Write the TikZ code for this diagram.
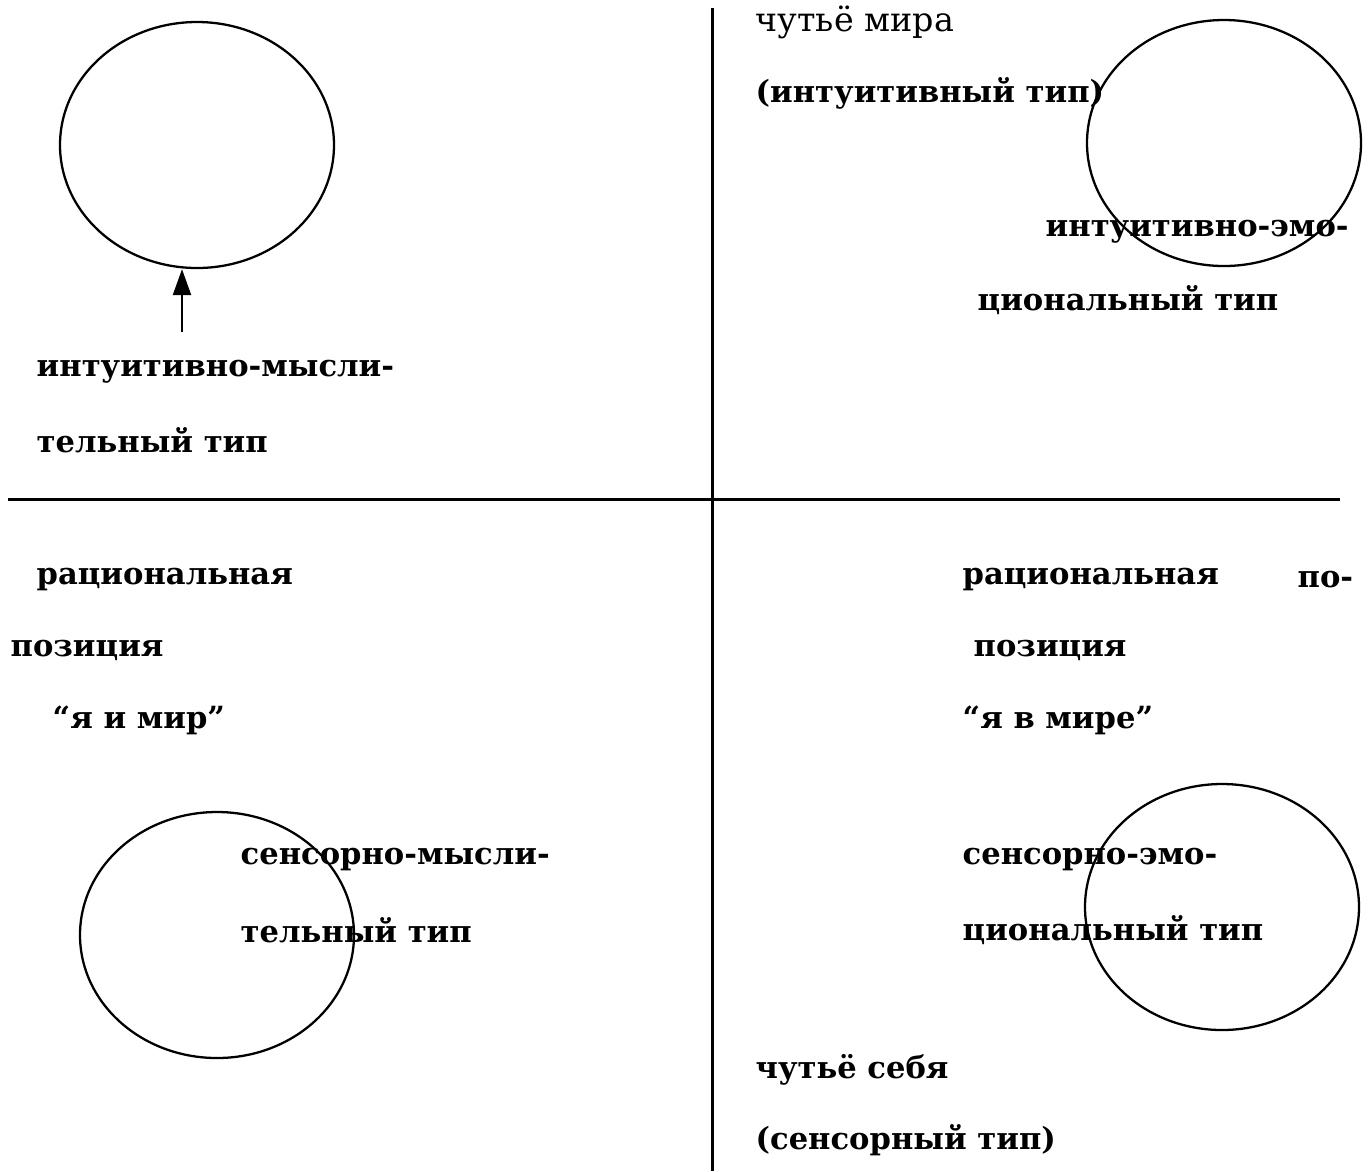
\documentclass[tikz,border=0pt]{standalone}
\usepackage{fontspec}
\setmainfont{DejaVu Serif}
\usetikzlibrary{arrows.meta,positioning,shapes.geometric}

\begin{document}
\begin{tikzpicture}[lbl/.style={anchor=west,inner sep=0pt,font=\bfseries\fontsize{8.7}{11}\selectfont},thin lbl/.style={lbl,font=\fontsize{9.5}{11}\selectfont},ring/.style={ellipse,draw,line width=0.65pt,inner sep=0pt,minimum width=2.74cm,minimum height=2.46cm},arrow/.style={-{Triangle[length=2.6mm,width=1.8mm]},line width=0.7pt}]
\useasboundingbox (0,0) rectangle (13.68,-11.71);
% axes
\coordinate (vtop) at (7.12,-0.08);
\coordinate (vbot) at (7.12,-11.71);
\coordinate (hleft) at (0.08,-4.99);
\coordinate (hright) at (13.40,-4.99);
\draw[line width=0.85pt] (vtop) -- (vbot);
\draw[line width=0.85pt] (hleft) -- (hright);
% circles
\node[ring](tl) at (1.97,-1.45){};
\node[ring](tr) at (12.24,-1.43){};
\node[ring](bl) at (2.17,-9.35){};
\node[ring](br) at (12.22,-9.07){};
\coordinate (tail) at (1.82,-3.32);
\draw[arrow] (tail) -- (tl.south -| tail);
% upper right
\node[thin lbl](mir) at (7.55,-0.22){чутьё мира};
\node[lbl](intu) at (7.55,-0.93){(интуитивный тип)};
\node[lbl](ie1) at (10.45,-2.32){интуитивно-эмо-};
\node[lbl](ie2) at (9.77,-3.00){циональный тип};
% upper left
\node[lbl](im1) at (0.36,-3.72){интуитивно-мысли-};
\node[lbl](im2) at (0.36,-4.40){тельный тип};
% lower left
\node[lbl](rl1) at (0.36,-5.80){рациональная};
\node[lbl](rl2) at (0.10,-6.50){позиция};
\node[lbl](rl3) at (0.52,-7.20){“я и мир”};
\node[lbl](sm1) at (2.40,-8.60){сенсорно-мысли-};
\node[lbl](sm2) at (2.40,-9.30){тельный тип};
% lower right
\node[lbl](rr1) at (9.62,-5.80){рациональная};
\node[lbl](rr1b) at (12.97,-5.80){по-};
\node[lbl](rr2) at (9.73,-6.50){позиция};
\node[lbl](rr3) at (9.62,-7.20){“я в мире”};
\node[lbl](se1) at (9.62,-8.60){сенсорно-эмо-};
\node[lbl](se2) at (9.62,-9.30){циональный тип};
\node[lbl](sebe) at (7.55,-10.70){чутьё себя};
\node[lbl](sens) at (7.55,-11.40){(сенсорный тип)};
\end{tikzpicture}
\end{document}
